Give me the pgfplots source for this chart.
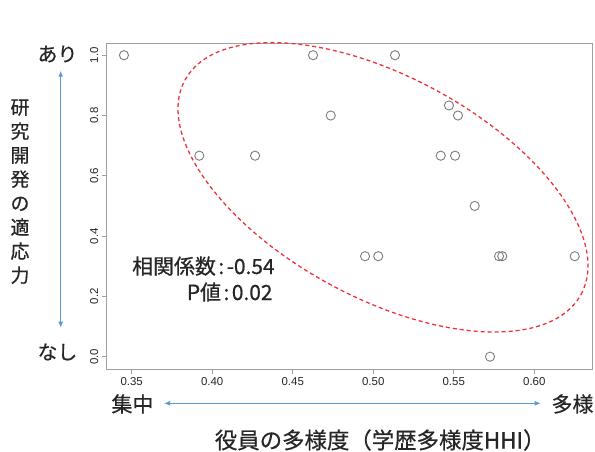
\documentclass[border=0pt]{standalone}
\usepackage{pgfplots}
\pgfplotsset{compat=1.18}
\usepackage{fontspec}
\setmainfont{Liberation Sans}
\newfontfamily\cjk[FakeBold=0.6]{Noto Sans CJK JP}
\usetikzlibrary{arrows.meta}
\definecolor{ellred}{RGB}{240,50,60}
\definecolor{arrblue}{RGB}{91,155,213}
\definecolor{ptgray}{RGB}{125,125,125}
\definecolor{boxgray}{RGB}{160,160,160}
\definecolor{txt}{RGB}{38,38,38}

\pgfplotstableread{
x y
0.3452 1.0
0.4626 1.0
0.5135 1.0
0.4736 0.8
0.5470 0.8333
0.5526 0.8
0.3920 0.6667
0.4266 0.6667
0.5419 0.6667
0.5508 0.6667
0.5630 0.5
0.4949 0.3333
0.5031 0.3333
0.5781 0.3333
0.5801 0.3333
0.6251 0.3333
0.5725 0.0
}\pts

\begin{document}
\begin{tikzpicture}
\begin{axis}[
  at={(0,0)}, anchor=south west,
  scale only axis, width=485.6bp, height=326bp,
  xmin=0.33448, xmax=0.63602, ymin=-0.0418, ymax=1.0395,
  xtick={0.35,0.40,0.45,0.50,0.55,0.60},
  xticklabels={0.35,0.40,0.45,0.50,0.55,0.60},
  ytick={0,0.2,0.4,0.6,0.8,1.0},
  yticklabels={0.0,0.2,0.4,0.6,0.8,1.0},
  axis line style={boxgray, line width=0.9bp},
  tick style={boxgray, line width=0.9bp},
  tick align=outside, major tick length=5bp,
  xtick pos=left, ytick pos=left,
  tick label style={font=\fontsize{11.5}{13}\selectfont, text=txt},
  /pgf/number format/assume math mode=true,
  yticklabel style={rotate=90, anchor=south},
  xticklabel style={anchor=north},
]
\addplot[only marks, mark=o, mark size=4.6pt, draw=ptgray, line width=0.9bp] table[x=x,y=y] {\pts};
\end{axis}
\begin{scope}[x=1bp,y=1bp]
\draw[ellred, line width=1.3bp, dash pattern=on 4bp off 3bp, rotate around={-28.4:(276.3,182)}] (276.3,182) ellipse [x radius=225.2, y radius=110.6];
\node[font=\cjk\fontsize{20}{24}\selectfont, text=txt, inner sep=0] at (-49.2,315.3) {あり};
\node[font=\cjk\fontsize{20}{24}\selectfont, text=txt, inner sep=0] at (-49.2,17.3) {なし};
\node[font=\cjk\fontsize{19}{24.1}\selectfont, text=txt, inner sep=0, align=center] at (-86.7,177.6) {研\\究\\開\\発\\の\\適\\応\\力};
\draw[arrblue, line width=1bp, {Latex[length=6bp,width=5bp]}-{Latex[length=6bp,width=5bp]}] (-46,298.6) -- (-46,41.6);
\draw[arrblue, line width=1bp, {Latex[length=6bp,width=5bp]}-{Latex[length=6bp,width=5bp]}] (57.3,-34) -- (434,-34);
\node[font=\cjk\fontsize{21}{24}\selectfont, text=txt, inner sep=0] at (25.8,-34.7) {集中};
\node[font=\cjk\fontsize{21}{24}\selectfont, text=txt, inner sep=0] at (465.8,-34.7) {多様};
\node[font=\cjk\fontsize{22.5}{24}\selectfont, text=txt, inner sep=0] at (273.5,-70.7) {役員の多様度（学歴多様度HHI）};
\node[font=\cjk\fontsize{21}{24}\selectfont, text=txt, inner sep=0, anchor=base west] at (25.3,95.3) {相関係数\hspace{2.5bp}:\hspace{2.5bp}-0.54};
\node[font=\cjk\fontsize{21}{24}\selectfont, text=txt, inner sep=0, anchor=base west] at (80,69.3) {P値\hspace{2.5bp}:\hspace{2.5bp}0.02};
\end{scope}
\pgfresetboundingbox
\path (-106.7bp,-82.7bp) rectangle (488.3bp,369.3bp);
\end{tikzpicture}
\end{document}
